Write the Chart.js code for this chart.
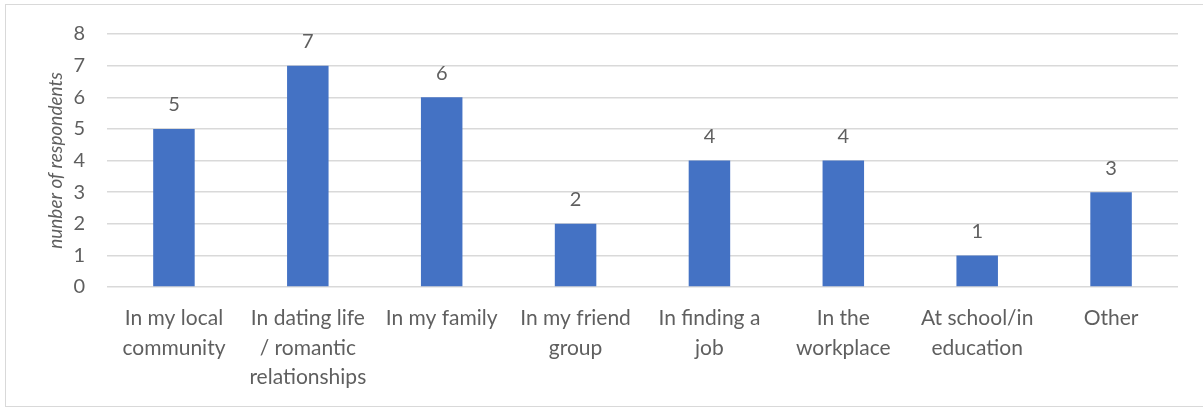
<!DOCTYPE html>
<html>
<head>
<meta charset="utf-8">
<script src="https://cdn.jsdelivr.net/npm/chart.js@4"></script>
<style>
  html, body { margin: 0; padding: 0; background: #fff; }
  .frame {
    position: absolute; left: 5px; top: 4px; width: 1198px; height: 403px;
    box-sizing: border-box; border: 1.5px solid #d9d9d9; border-right: none;
  }
  #chart { position: absolute; left: 0; top: 0; }
</style>
</head>
<body>
<div class="frame"></div>
<canvas id="chart" width="1203" height="407"></canvas>
<script>
const categories = [
    ['In my local', 'community'],
    ['In dating life', '/ romantic', 'relationships'],
    ['In my family'],
    ['In my friend', 'group'],
    ['In finding a', 'job'],
    ['In the', 'workplace'],
    ['At school/in', 'education'],
    ['Other']
];
const respondents = [5, 7, 6, 2, 4, 4, 1, 3];
const yTicks = [0, 1, 2, 3, 4, 5, 6, 7, 8];

const textColor = '#5f5f5f';
const gridColor = '#d9d9d9';

// value labels above each bar
const barValues = {
    id: 'barValues',
    afterDatasetsDraw(chart) {
        const ctx = chart.ctx;
        const meta = chart.getDatasetMeta(0);
        ctx.save();
        ctx.font = '20px Lato';
        ctx.fillStyle = textColor;
        ctx.textAlign = 'center';
        ctx.textBaseline = 'middle';
        meta.data.forEach((bar, i) => {
            ctx.fillText(respondents[i], bar.x, bar.y - 24);
        });
        ctx.restore();
    }
};

var ctx = document.getElementById('chart').getContext('2d');
var chart = new Chart(ctx, {
    type: 'bar',
    data: {
        labels: categories,
        datasets: [{
            data: respondents,
            backgroundColor: '#4472c4',
            borderWidth: 0,
            barPercentage: 0.62,
            categoryPercentage: 0.5
        }]
    },
    options: {
        responsive: false,
        animation: false,
        layout: {
            padding: { left: 0, right: 25, top: 34, bottom: 0 }
        },
        scales: {
            x: {
                grid: { display: false, drawTicks: false },
                border: { display: false },
                ticks: {
                    color: textColor,
                    font: { family: 'Lato', size: 21, lineHeight: 1.4 },
                    padding: 17,
                    maxRotation: 0,
                    autoSkip: false
                },
                afterFit(scale) { scale.height = 120; }
            },
            y: {
                min: 0,
                max: 8,
                afterBuildTicks(scale) {
                    scale.ticks = yTicks.map(v => ({ value: v }));
                },
                grid: { color: gridColor, lineWidth: 1.5, drawTicks: false },
                border: { display: false },
                ticks: {
                    color: textColor,
                    font: { family: 'Lato', size: 20 },
                    padding: 22
                },
                title: {
                    display: true,
                    text: 'nunber of respondents',
                    color: textColor,
                    font: { family: 'Lato', size: 19, style: 'italic' },
                    padding: { top: 44, bottom: 0 }
                },
                afterFit(scale) { scale.width = 107; }
            }
        },
        plugins: {
            legend: { display: false },
            tooltip: { enabled: false }
        }
    },
    plugins: [barValues]
});
</script>
</body>
</html>
